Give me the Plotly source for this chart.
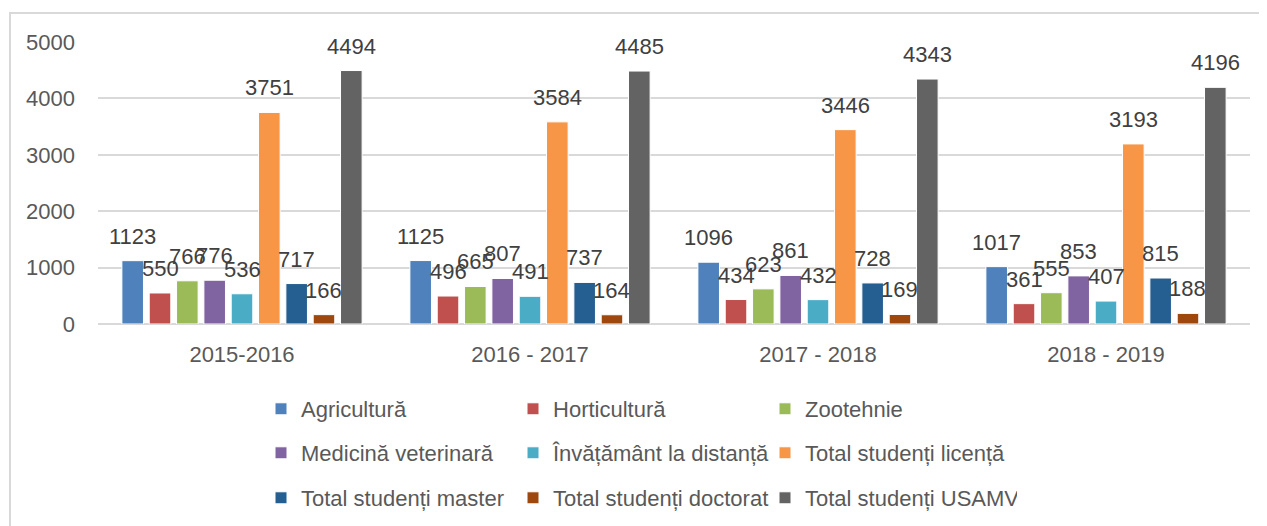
import plotly.graph_objects as go

categories = ["2015-2016", "2016 - 2017", "2017 - 2018", "2018 - 2019"]
series_names = ["Agricultură", "Horticultură", "Zootehnie",
                "Medicină veterinară", "Învățământ la distanță", "Total studenți licență",
                "Total studenți master", "Total studenți doctorat", "Total studenți USAMV"]
agricultura = [1123, 1125, 1096, 1017]
horticultura = [550, 496, 434, 361]
zootehnie = [766, 665, 623, 555]
medicina = [776, 807, 861, 853]
distanta = [536, 491, 432, 407]
licenta = [3751, 3584, 3446, 3193]
master = [717, 737, 728, 815]
doctorat = [166, 164, 169, 188]
usamv = [4494, 4485, 4343, 4196]
series_values = [agricultura, horticultura, zootehnie, medicina, distanta,
                 licenta, master, doctorat, usamv]
colors = ["#4F81BD", "#C0504D", "#9BBB59", "#8064A2", "#4BACC6",
          "#F79646", "#255E91", "#9E480E", "#636363"]
y_ticks = [0, 1000, 2000, 3000, 4000, 5000]

FONT = "Liberation Sans, Arial, sans-serif"
BARGAP = 0.146
n = len(series_values)
slot = (1 - BARGAP) / n
xs = list(range(len(categories)))

fig = go.Figure()
annotations = []
legend_ids = ["legend", "legend2", "legend3"]
for j, (name, vals, col) in enumerate(zip(series_names, series_values, colors)):
    fig.add_trace(go.Bar(
        x=xs, y=vals, name=name,
        marker=dict(color=col, line=dict(color="white", width=1)),
        legend=legend_ids[j // 3],
        hoverinfo="name+y",
    ))
    for i, v in enumerate(vals):
        annotations.append(dict(
            x=i + (j - (n - 1) / 2) * slot, y=v, xref="x", yref="y",
            text=str(v), showarrow=False, yanchor="bottom", xanchor="center",
            yshift=10, font=dict(family=FONT, size=22, color="#404040"),
        ))

legend_rows_y = [-0.3014, -0.4574, -0.6170]
legends = {}
for k, lid in enumerate(legend_ids):
    legends[lid] = dict(
        orientation="h", x=0.1415, xanchor="left", y=legend_rows_y[k], yanchor="middle",
        font=dict(family=FONT, size=22, color="#595959"),
        bgcolor="rgba(0,0,0,0)", entrywidth=207, entrywidthmode="pixels",
        traceorder="normal", itemclick=False,
    )

fig.update_layout(
    width=1259, height=518,
    margin=dict(l=90, r=17, t=34, b=202, autoexpand=False),
    paper_bgcolor="white", plot_bgcolor="white",
    barmode="group", bargap=BARGAP, bargroupgap=0.21,
    showlegend=True,
    font=dict(family=FONT, size=22, color="#595959"),
    xaxis=dict(
        tickmode="array", tickvals=xs, ticktext=categories,
        range=[-0.5, len(categories) - 0.5],
        showgrid=False, zeroline=False, showline=False, ticks="",
        ticklabelstandoff=15,
        tickfont=dict(family=FONT, size=22, color="#595959"),
    ),
    yaxis=dict(
        range=[0, 5000], tickvals=y_ticks,
        showgrid=True, gridcolor="#D9D9D9", gridwidth=1.5,
        zeroline=True, zerolinecolor="#D9D9D9", zerolinewidth=1.5,
        showline=False, ticks="", ticklabelstandoff=22,
        tickfont=dict(family=FONT, size=22, color="#595959"),
    ),
    annotations=annotations,
    shapes=[dict(type="rect", xref="paper", yref="paper",
                 x0=(10 - 98) / 1152, x1=(1275 - 98) / 1152,
                 y0=(324 - 535) / 282, y1=(324 - 13) / 282,
                 line=dict(color="#D9D9D9", width=2), fillcolor="rgba(0,0,0,0)",
                 layer="below")],
    **legends,
)

fig.write_html("out.html")
